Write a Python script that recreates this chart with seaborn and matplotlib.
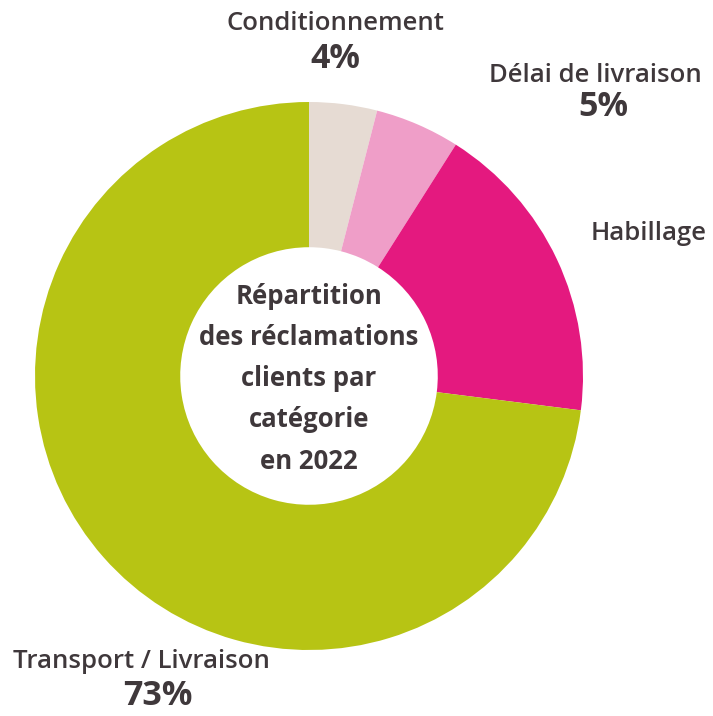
import matplotlib
matplotlib.use("Agg")
import matplotlib.pyplot as plt
import seaborn as sns

# Répartition des réclamations clients par catégorie (2022)
categories = ["Conditionnement", "Délai de livraison", "Habillage", "Transport / Livraison"]
shares = [4, 5, 18, 73]
shown_pct = ["4%", "5%", None, "73%"]
colors = ["#e6dbd3", "#ef9ec8", "#e4197f", "#b7c414"]

sns.set_theme(style="white")
plt.rcParams["font.family"] = ["Open Sans", "DejaVu Sans"]
text_color = "#3f383b"

W, H = 713, 716
fig = plt.figure(figsize=(W / 100, H / 100), dpi=100)
ax = fig.add_axes([0, 0, 1, 1])
ax.set_xlim(0, W)
ax.set_ylim(0, H)
ax.set_aspect("equal")
ax.axis("off")

cx, cy, R = 309, H - 376, 274
ax.pie(shares, colors=colors, startangle=90, counterclock=False,
       center=(cx, cy), radius=R,
       wedgeprops=dict(width=R * 0.53, edgecolor="none"))
ax.set_xlim(0, W)
ax.set_ylim(0, H)

# category labels and percentages
label_pos = [(335, 23), (595, 75), (649, 233), (141, 661)]
pct_pos = [(335, 59), (603, 107), None, (158, 696)]
for name, pct, lp, pp in zip(categories, shown_pct, label_pos, pct_pos):
    ax.text(lp[0], H - lp[1], name, ha="center", va="center",
            fontsize=18.5, fontweight="semibold", color=text_color)
    if pct is not None:
        ax.text(pp[0], H - pp[1], pct, ha="center", va="center",
                fontsize=24.5, fontweight="bold", color=text_color)

center_lines = ["Répartition", "des réclamations", "clients par", "catégorie", "en 2022"]
for i, line in enumerate(center_lines):
    ax.text(cx, H - (296 + i * 41.3), line, ha="center", va="center",
            fontsize=18.5, fontweight="bold", color=text_color)

fig.savefig("out.png", dpi=100)
